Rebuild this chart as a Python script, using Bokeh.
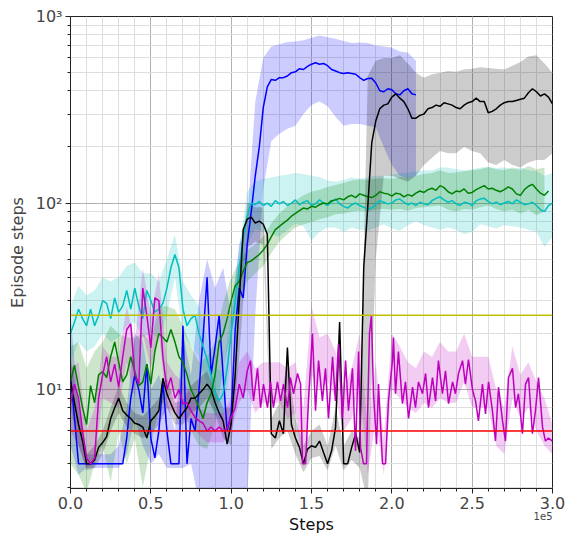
from bokeh.plotting import figure
from bokeh.models import Range1d, FixedTicker, Span, Title
from bokeh.embed import file_html
from bokeh.resources import INLINE

LINE_STEP = 2500
BAND_STEP = 5000

blue = [12, 7, 4, 4, 4, 4, 4, 4, 4, 4,
        4, 4, 4, 4, 5.5, 9, 12, 10, 7.5, 13.7,
        5.5, 4.3, 6, 11, 6, 4, 4, 4, 22, 4,
        7, 6, 10, 19, 40, 12, 17, 25, 12, 6,
        7.4, 21, 35, 31, 60, 90, 140, 200, 326, 420,
        460, 455, 470, 470, 480, 500, 505, 525, 520, 540,
        555, 565, 555, 560, 545, 520, 510, 500, 495, 500,
        495, 490, 470, 455, 465, 466, 440, 400, 395, 410,
        405, 385, 380, 400, 410, 385, 380]
blue_lo = [5, 3.5, 3.8, 3.8, 3.8, 3.8, 3.8, 4.5, 7, 5,
           4, 4.5, 3.8, 3.8, 3.8, 4, 2.5, 2.5, 2.5, 2.5,
           2.5, 2.5, 2.5, 25, 120, 215, 235, 250, 260, 300,
           335, 350, 330, 290, 260, 265, 265, 260, 255, 200,
           160, 140, 135, 140]
blue_hi = [25, 8, 4.5, 4.5, 4.5, 4.5, 5, 8, 20, 18,
           10, 12, 9, 6, 20, 12, 30, 50, 35, 45,
           25, 60, 80, 350, 600, 690, 710, 730, 735, 745,
           770, 790, 775, 760, 740, 720, 725, 720, 700, 690,
           680, 650, 640, 580]

cyan = [20, 23, 27, 24, 22, 27, 22, 25, 30, 29,
        24, 31, 26, 28, 34, 27, 35, 28, 24, 34,
        30, 26, 27, 29, 35, 45, 53, 45, 27, 22,
        24, 25, 20, 17, 14.5, 12, 9.5, 8.7, 9.5, 13,
        20, 30, 45, 65, 85, 100, 98, 102, 97, 100,
        96, 103, 99, 102, 97, 100, 104, 98, 101, 103,
        97, 99, 104, 100, 97, 101, 105, 99, 96, 94,
        98, 100, 97, 95, 93, 94, 98, 103, 101, 99,
        100, 104, 105, 101, 98, 100, 97, 101, 99, 98,
        103, 106, 108, 104, 101, 103, 99, 97, 101, 100,
        97, 103, 105, 106, 102, 99, 101, 98, 100, 102,
        99, 104, 101, 98, 99, 101, 97, 92, 90, 97,
        100]
cyan_lo = [14, 18, 16, 17, 20, 18, 19, 22, 23, 19,
           20, 19, 25, 40, 20, 17, 15, 10.5, 7, 7,
           15, 32, 60, 73, 70, 68, 66, 72, 78, 75,
           63, 70, 74, 74, 70, 74, 72, 71, 74, 77,
           73, 71, 76, 80, 76, 74, 72, 74, 72, 68,
           70, 77, 75, 73, 76, 75, 74, 72, 70, 58,
           66]
cyan_hi = [28, 36, 32, 34, 40, 38, 40, 46, 48, 42,
           42, 38, 50, 68, 38, 32, 28, 19, 13, 12.5,
           27, 58, 115, 130, 135, 137, 140, 142, 145, 143,
           140, 138, 132, 130, 133, 137, 135, 137, 140, 140,
           142, 145, 145, 148, 150, 150, 155, 155, 152, 150,
           152, 155, 156, 154, 155, 152, 155, 150, 148, 140,
           145]

green = [11, 13.5, 10.3, 8, 6.5, 10.5, 8.5, 12, 12.5, 11.6,
         15, 18, 14, 11, 12, 15, 12.5, 10.5, 11, 13.7,
         10.7, 16, 20, 19, 18, 21, 18, 15, 14, 12,
         10, 9, 8, 7, 8.5, 9.5, 12, 18, 20, 24,
         30, 36, 38, 43, 48, 49, 51, 53, 56, 60,
         66, 72, 75, 78, 81, 85, 88, 91, 94, 93,
         96, 95, 98, 100, 99, 103, 104, 106, 104, 108,
         110, 107, 112, 110, 108, 107, 110, 115, 113, 112,
         109, 113, 112, 108, 111, 109, 113, 116, 114, 118,
         120, 117, 124, 121, 115, 112, 116, 115, 119, 113,
         114, 118, 121, 124, 119, 120, 117, 115, 118, 122,
         119, 112, 110, 118, 123, 126, 119, 113, 110, 116]
green_lo = [4, 3.5, 2.8, 4, 5, 3.2, 6, 4, 5.5, 3,
            5, 8, 9, 10, 8, 6, 5, 4.8, 6.5, 13,
            20, 29, 38, 42, 46, 54, 62, 68, 74, 77,
            79, 82, 84, 87, 88, 90, 91, 90, 92, 93,
            92, 93, 91, 94, 95, 96, 97, 92, 90, 93,
            92, 95, 97, 93, 90, 92, 88, 92, 86, 90]
green_hi = [17, 18, 13, 16, 18, 22, 20, 19, 19, 20,
            18, 28, 28, 27, 22, 17, 14, 15, 18, 29,
            40, 48, 56, 60, 66, 78, 88, 96, 103, 110,
            115, 118, 122, 125, 128, 132, 134, 133, 135, 136,
            135, 138, 136, 140, 143, 145, 150, 145, 146, 148,
            150, 152, 156, 152, 150, 155, 150, 158, 152, 155]

black = [11, 8.5, 6.5, 5.3, 4, 4, 4.2, 4.9, 5.2, 5.6,
         7, 8, 9, 7.7, 7.3, 7, 6.6, 6.5, 6.3, 5.5,
         6.8, 7.2, 7.7, 11.5, 9.5, 8.4, 7.5, 7, 7.5, 8,
         9, 9, 9.5, 10, 10.7, 10, 8.5, 7.5, 6.8, 5.1,
         6.6, 12, 30, 72, 82, 84, 78, 80, 77, 68,
         5.8, 5.5, 6.8, 5.8, 16.8, 6.5, 5.5, 4.9, 4, 4.8,
         5, 4.9, 5.3, 4.6, 4, 4.7, 6.3, 23, 4, 4,
         4.9, 5.8, 4.6, 45, 95, 210, 275, 320, 335, 340,
         370, 385, 365, 350, 320, 285, 285, 295, 300, 320,
         325, 335, 330, 345, 340, 335, 325, 320, 335, 345,
         350, 365, 350, 350, 305, 310, 320, 335, 345, 350,
         350, 355, 360, 365, 390, 410, 395, 375, 385, 370,
         340]
black_lo = [8, 5, 3.7, 3.8, 4.5, 6, 7.5, 6.3, 5.8, 5.5,
            5.8, 6.5, 8, 6.5, 6.5, 7.5, 8, 9, 7.5, 5.5,
            5, 15, 58, 62, 60, 4.8, 5.5, 6, 4.5, 3.6,
            4.3, 4.4, 3.7, 5, 3.7, 4.2, 3.8, 2.5, 50, 140,
            140, 135, 130, 140, 160, 175, 190, 185, 185, 200,
            190, 185, 165, 160, 170, 160, 155, 165, 170, 170,
            185]
black_hi = [15, 8.5, 4.5, 5, 6, 8, 10.5, 8.5, 7.5, 7.2,
            8, 9, 11.5, 8.5, 8.8, 10.5, 11.5, 12.5, 10, 8,
            8, 45, 100, 95, 95, 7, 8.5, 14, 7, 5,
            6, 6.5, 5, 8, 5, 6, 5.5, 480, 580, 600,
            600, 620, 560, 500, 470, 490, 500, 510, 505, 520,
            525, 535, 530, 525, 520, 545, 570, 610, 620, 560,
            500]

# magenta: regular 2500-step samples up to 110000, then denser readings
magenta_early = [8.4, 10.7, 9, 6, 4.3, 4, 4.3, 9, 12, 15,
                 11, 13.7, 10.3, 15, 21, 22.5, 12, 10.7, 35, 25,
                 16.8, 31, 30, 15, 10, 11.6, 9, 10, 8.4, 8.5,
                 7.7, 7.1, 6.8, 6.6, 6, 6.3, 6, 6.3, 6, 6.2,
                 7.1, 8, 10.7, 9, 12.6]
magenta_late_x = [112000, 113900, 116400, 118300, 120100, 122600, 124500,
                  126300, 128800, 130700, 132600, 135100, 136900, 138800,
                  141300, 143200, 144400, 146300, 148100, 150600, 152500,
                  154400, 156800, 158700, 160600, 163100, 164900, 166800,
                  169300, 171200, 173000, 175500, 177400, 179300, 180500,
                  182400, 184200, 186100, 187300, 188600, 190500, 191700,
                  194200, 196100, 197900, 200400, 201000, 202300, 204100,
                  206600, 208500, 210400, 212900, 214700, 216600, 219100,
                  221000, 222800, 225300, 227200, 229000, 231500, 233400,
                  235300, 237800, 239600, 241500, 244000, 245800, 247700,
                  250200, 252100, 253900, 256400, 258300, 260200, 262600,
                  264500, 266400, 268900, 270700, 272600, 275100, 277000,
                  278800, 281300, 283200, 285100, 287500, 289400, 291300,
                  293800, 295600, 297500, 300000]
magenta_late = [14.3, 8.7, 13, 8, 10.7, 8, 11,
                8, 11, 8.7, 10.7, 8, 11.6, 9.5,
                12.2, 10.7, 4, 4, 8.7, 20, 7.7,
                14.3, 8.7, 13, 7, 15, 8.7, 17.6,
                7, 14.3, 7.7, 13, 4.7, 16, 4.9,
                4, 4, 20, 25, 9.5, 5.1, 10.7,
                4, 4, 8.7, 14.3, 19, 9.5, 16,
                8.4, 11, 7, 10.3, 8, 11, 9.5,
                12.2, 8, 11.6, 8.7, 14.3, 9.5, 12.6,
                8.4, 11, 9.5, 12.2, 14.3, 10.7, 14.5,
                10, 8.7, 6.8, 10.7, 7.4, 11, 7.7,
                5.3, 10.3, 6.8, 5.3, 11.6, 13, 8,
                9.5, 5.8, 10.7, 11.6, 5.8, 7.7, 11.6,
                6.3, 5.3, 5.5, 5.3]
magenta_lo = [6, 5, 3.8, 4, 9, 8.5, 8, 14, 9, 20,
              13, 20, 8, 7.5, 7, 6.5, 5.7, 5.2, 5.2, 5.2,
              6, 8.5, 10, 7.5, 8.5, 8.5, 8.5, 7, 7.5, 3.8,
              12, 10, 11, 9, 6, 7, 11, 3.5, 7, 3.5,
              10, 9, 8, 7.5, 8.5, 8, 9, 8.5, 8.5, 11,
              8, 8, 8, 5, 4.5, 9, 7, 8, 6, 5,
              4.5]
magenta_hi = [13, 14, 6, 8, 17, 15, 15, 28, 18, 45,
              25, 42, 14, 12, 11, 9.5, 8, 7.5, 7.5, 7.5,
              9, 14, 16, 13, 14, 14, 14, 13, 14, 8,
              28, 19, 20, 16, 10, 13, 20, 6, 14, 5.5,
              20, 17, 14, 13, 16, 15, 18, 16, 16, 20,
              15, 15, 15, 10, 8, 17, 12, 14, 11, 9,
              6.5]

thresholds = [25, 6]
threshold_colors = ["#bfbf00", "#ff0000"]

x_ticks = [0, 50000, 100000, 150000, 200000, 250000, 300000]
x_tick_labels = ["0.0", "0.5", "1.0", "1.5", "2.0", "2.5", "3.0"]
y_ticks = [10, 100, 1000]
y_tick_labels = ["10\u00b9", "10\u00b2", "10\u00b3"]

def regular_x(n, step):
    return [i * step for i in range(n)]

magenta_x = regular_x(len(magenta_early), LINE_STEP) + magenta_late_x
magenta = magenta_early + magenta_late

series = [
    (regular_x(len(blue), LINE_STEP), blue, blue_lo, blue_hi, "#0000ff"),
    (regular_x(len(cyan), LINE_STEP), cyan, cyan_lo, cyan_hi, "#00bfbf"),
    (regular_x(len(green), LINE_STEP), green, green_lo, green_hi, "#008000"),
    (regular_x(len(black), LINE_STEP), black, black_lo, black_hi, "#000000"),
    (magenta_x, magenta, magenta_lo, magenta_hi, "#bf00bf"),
]

FONT = "DejaVu Sans"

p = figure(width=573, height=533, x_range=Range1d(0, 300000),
           y_range=Range1d(2.95, 1000), y_axis_type="log",
           output_backend="svg", toolbar_location=None,
           min_border_left=70, min_border_right=21, min_border_top=16,
           min_border_bottom=45)
p.background_fill_color = "white"
p.border_fill_color = "white"
p.outline_line_color = "#222222"
p.outline_line_width = 1

for lx, vals, lo, hi, col in series:
    p.varea(x=regular_x(len(lo), BAND_STEP), y1=lo, y2=hi,
            fill_color=col, fill_alpha=0.2)
for lx, vals, lo, hi, col in series:
    p.line(lx, vals, line_color=col, line_width=1.5)

for t, c in zip(thresholds, threshold_colors):
    p.add_layout(Span(location=t, dimension="width", line_color=c, line_width=1.5))

p.xaxis.ticker = FixedTicker(ticks=x_ticks,
                             minor_ticks=[i * 10000 for i in range(31)])
p.xaxis.major_label_overrides = dict(zip(x_ticks, x_tick_labels))
minor_y = [m * d for d in (1, 10, 100) for m in range(2, 10)]
p.yaxis.ticker = FixedTicker(ticks=y_ticks, minor_ticks=minor_y)
p.yaxis.major_label_overrides = dict(zip(y_ticks, y_tick_labels))

for ax in (p.xaxis, p.yaxis):
    ax.major_label_text_font = FONT
    ax.major_label_text_font_size = "16px"
    ax.axis_label_text_font = FONT
    ax.axis_label_text_font_size = "16px"
    ax.axis_label_text_font_style = "normal"
    ax.axis_line_color = "#222222"
    ax.major_tick_line_color = "#222222"
    ax.minor_tick_line_color = "#222222"
    ax.major_tick_in = 0
    ax.major_tick_out = 5
    ax.minor_tick_in = 0
    ax.minor_tick_out = 3
    ax.major_label_standoff = 3

p.yaxis.axis_label = "Episode steps"
p.yaxis.axis_label_standoff = 6

# x-axis offset text and axis title as titles in the bottom panel
p.add_layout(Title(text="1e5", align="right", vertical_align="top",
                   standoff=0, text_font=FONT, text_font_size="10px",
                   text_font_style="normal", text_color="#444444"), "below")
p.add_layout(Title(text="Steps", align="center", vertical_align="bottom",
                   standoff=-17, text_font=FONT, text_font_size="16px",
                   text_font_style="normal", text_color="#111111"), "below")

for g in (p.xgrid, p.ygrid):
    g.grid_line_color = "#b0b0b0"
    g.grid_line_width = 1
    g.minor_grid_line_color = "#dedede"
    g.minor_grid_line_width = 1

open("out.html", "w").write(file_html(p, INLINE))
